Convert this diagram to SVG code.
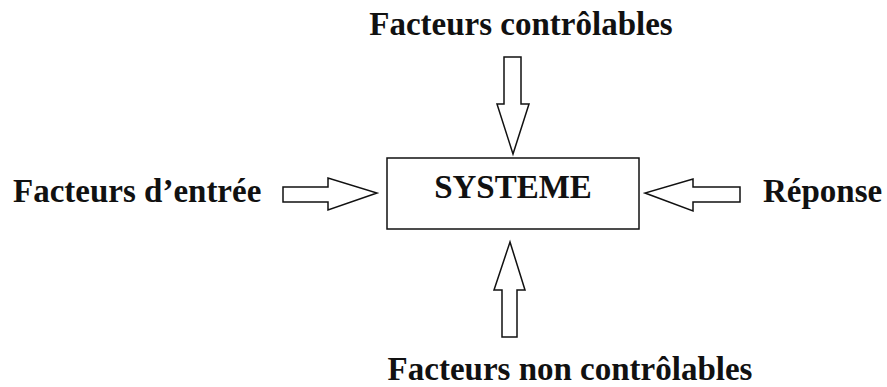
<svg xmlns="http://www.w3.org/2000/svg" width="887" height="387" viewBox="0 0 887 387">
<style>
.t{font-family:"Liberation Serif","Times New Roman",serif;font-weight:bold;font-size:33px;fill:#111}
.a{fill:#fff;stroke:#111;stroke-width:1.5;stroke-linejoin:miter}
.b{fill:#fff;stroke:#111;stroke-width:1.5}
</style>
<rect width="887" height="387" fill="#fff"/>
<g id="systeme">
<rect class="b" x="387" y="158" width="252" height="71"/>
<text class="t" x="513" y="198" text-anchor="middle">SYSTEME</text>
</g>
<g id="facteurs-controlables">
<text class="t" x="521" y="35" text-anchor="middle">Facteurs contrôlables</text>
</g>
<g id="facteurs-entree">
<text class="t" x="13" y="202">Facteurs d’entrée</text>
</g>
<g id="reponse">
<text class="t" x="763" y="202">Réponse</text>
</g>
<g id="facteurs-non-controlables">
<text class="t" x="570" y="380" text-anchor="middle">Facteurs non contrôlables</text>
</g>
<g id="connectors">
<polygon class="a" points="504,57 521,57 521,104 529,104 513,154 497,104 504,104"/>
<polygon class="a" points="283,187 328,187 328,178 377,193 328,210 328,202 283,202"/>
<polygon class="a" points="740,187 693,187 693,179 645,193 693,211 693,202 740,202"/>
<polygon class="a" points="502,337 517,337 517,290 525,290 510,242 494,290 502,290"/>
</g>
</svg>
